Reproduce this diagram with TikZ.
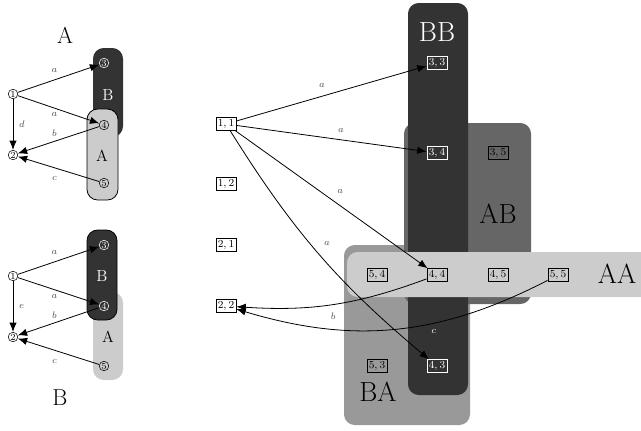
\documentclass[tikz,border=0pt]{standalone}
\usepackage{amsmath}
\usepackage{xcolor}
\definecolor{darkbox}{gray}{0.2}
\definecolor{midbox}{gray}{0.4}
\definecolor{lowbox}{gray}{0.6}
\definecolor{lightbox}{gray}{0.8}
\tikzset{
    state/.style={circle,draw,inner sep=0.3pt,minimum size=7.2pt,font=\scriptsize},
    whitestate/.style={state,draw=white,text=white},
    pair/.style={draw,rectangle,inner sep=1.5pt,font=\footnotesize},
    whitepair/.style={pair,draw=white,text=white},
    trans/.style={-{Latex[length=7pt,width=5.5pt]},line width=0.6pt},
    lbl/.style={font=\scriptsize,text=black!70},
    region/.style={rounded corners=8pt},
}
\usetikzlibrary{arrows.meta,positioning}

\begin{document}
\begin{tikzpicture}[x=0.75pt,y=-0.75pt]% one unit is one pixel
\useasboundingbox (0,0) rectangle (641,430);

%%% automaton A
\node[font=\LARGE] (titleA) at (65,35) {A};
\fill[darkbox,region] (93,48) rectangle (123,137);
\filldraw[fill=lightbox,draw=black,line width=0.6pt,region] (87,109) rectangle (118,200);
\node[text=white,font=\large] (pB) at (108,95) {B};
\node[font=\large] (pA) at (102,156) {A};

\node[state]      (p1) at (13,94)   {1};
\node[state]      (p2) at (13,155)  {2};
\node[whitestate] (p3) at (104,63)  {3};
\node[state]      (p4) at (104,125) {4};
\node[state]      (p5) at (104,183) {5};

\draw[trans] (p1) -- node[lbl,above=2pt,pos=0.45] {$a$} (p3);
\draw[trans] (p1) -- node[lbl,below=0pt,pos=0.45] {$a$} (p4);
\draw[trans] (p1) -- node[lbl,right=1pt] {$d$} (p2);
\draw[trans] (p4) -- node[lbl,above=0pt,pos=0.55] {$b$} (p2);
\draw[trans] (p5) -- node[lbl,below=3pt,pos=0.55] {$c$} (p2);

%%% automaton B
\begin{scope}[shift={(0,182)}]
\fill[lightbox,region] (93,110) rectangle (123,198);
\filldraw[fill=darkbox,draw=black,line width=0.6pt,region] (87,48) rectangle (117,138);
\node[text=white,font=\large] (qB) at (102,94) {B};
\node[font=\large] (qA) at (108,155) {A};
\node[font=\LARGE] (titleB) at (60,216) {B};

\node[state]      (q1) at (13,94)   {1};
\node[state]      (q2) at (13,155)  {2};
\node[whitestate] (q3) at (104,63)  {3};
\node[whitestate] (q4) at (104,124) {4};
\node[state]      (q5) at (104,184) {5};

\draw[trans] (q1) -- node[lbl,above=2pt,pos=0.45] {$a$} (q3);
\draw[trans] (q1) -- node[lbl,below=0pt,pos=0.45] {$a$} (q4);
\draw[trans] (q1) -- node[lbl,right=1pt] {$e$} (q2);
\draw[trans] (q4) -- node[lbl,above=0pt,pos=0.55] {$b$} (q2);
\draw[trans] (q5) -- node[lbl,below=3pt,pos=0.55] {$c$} (q2);
\end{scope}

%%% product
\fill[lowbox,region]  (344,245) rectangle (470,425);
\fill[midbox,region]  (404,123) rectangle (531,304);
\fill[darkbox,region] (408,3)   rectangle (468,395);
\fill[lightbox,region] (347,252) rectangle (670,297);

\node[font=\huge,text=white] (lBB) at (437,32)  {BB};
\node[font=\huge]            (lAB) at (498,214) {AB};
\node[font=\huge]            (lBA) at (378,392) {BA};
\node[font=\huge]            (lAA) at (617,274) {AA};

\node[pair]      (n11) at (226,124) {$1,1$};
\node[pair]      (n12) at (226,184) {$1,2$};
\node[pair]      (n21) at (226,245) {$2,1$};
\node[pair]      (n22) at (226,306) {$2,2$};
\node[whitepair] (n33) at (437,63)  {$3,3$};
\node[whitepair] (n34) at (437,153) {$3,4$};
\node[pair]      (n35) at (498,153) {$3,5$};
\node[pair]      (n54) at (377,275) {$5,4$};
\node[pair]      (n44) at (437,275) {$4,4$};
\node[pair]      (n45) at (498,275) {$4,5$};
\node[pair]      (n55) at (558,275) {$5,5$};
\node[pair]      (n53) at (377,366) {$5,3$};
\node[whitepair] (n43) at (437,366) {$4,3$};

\draw[trans] (n11) -- node[lbl,above=3pt,pos=0.45] {$a$} (n33);
\draw[trans] (n11) -- node[lbl,above=2pt,pos=0.55] {$a$} (n34);
\draw[trans] (n11) -- node[lbl,above right=1pt,pos=0.5] {$a$} (n44);
\draw[trans] (n11) to[bend right=9] node[lbl,right=7pt,pos=0.45] {$a$} (n43);
\draw[trans] (n44) to[bend left=12] node[lbl,below=3pt,pos=0.5] {$b$} (n22);
\draw[trans] (n55) to[bend left=22] node[lbl,below=1pt,pos=0.37,text=white] {$c$} (n22);
\end{tikzpicture}
\end{document}
